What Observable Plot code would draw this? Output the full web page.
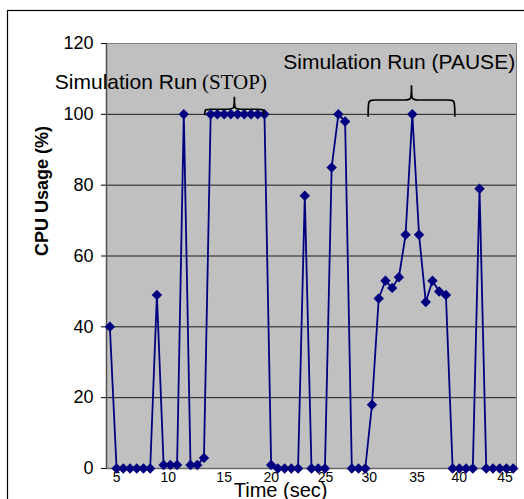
<!DOCTYPE html>
<html>
<head>
<meta charset="utf-8">
<script src="https://cdn.jsdelivr.net/npm/d3@7"></script>
<script src="https://cdn.jsdelivr.net/npm/@observablehq/plot@0.6"></script>
<style>
  html, body { margin: 0; padding: 0; background: #fff; }
</style>
</head>
<body>
<div id="chart"></div>
<script>
// CPU usage (%) for each sample of the run
const cpuUsage = [
  40, 0, 0, 0, 0, 0, 0, 49, 1, 1,
  1, 100, 1, 1, 3, 100, 100, 100, 100, 100,
  100, 100, 100, 100, 1, 0, 0, 0, 0, 77,
  0, 0, 0, 85, 100, 98, 0, 0, 0, 18,
  48, 53, 51, 54, 66, 100, 66, 47, 53, 50,
  49, 0, 0, 0, 0, 79, 0, 0, 0, 0,
  0
];
const sampleIndex = cpuUsage.map((_, i) => i);

// time labels (sec) and the sample at which each one sits
const timeTicks = [5, 10, 15, 20, 25, 30, 35, 40, 45];
const timeTickSample = [1.0, 8.7, 17.0, 24.0, 32.1, 38.6, 45.7, 52.0, 58.8];

const yTicks = [0, 20, 40, 60, 80, 100, 120];
const gridValues = [20, 40, 60, 80, 100];

// brace annotations (sample span, and CPU levels for base, bar and tip)
const braceStart = [14.2, 38.5];
const braceEnd = [23.0, 51.4];
const braceBase = [99.6, 99.2];
const braceMid = [101.3, 103.9];
const braceTip = [104.8, 108.1];

const rows = sampleIndex.map((s, i) => ({sample: s, cpu: cpuUsage[i]}));
const tickRows = timeTicks.map((t, i) => ({label: String(t), sample: timeTickSample[i]}));

const SANS = "'Liberation Sans', Arial, sans-serif";
const SERIF = "'Liberation Serif', 'Times New Roman', serif";
const NAVY = "#000080";

function outerBorder(index, scales, values, dimensions) {
  const r = document.createElementNS("http://www.w3.org/2000/svg", "rect");
  r.setAttribute("x", 7.5); r.setAttribute("y", 10.5);
  r.setAttribute("width", dimensions.width); r.setAttribute("height", dimensions.height);
  r.setAttribute("fill", "none"); r.setAttribute("stroke", "#000"); r.setAttribute("stroke-width", 1.2);
  return r;
}

function braces(index, scales) {
  const {x, y} = scales;
  const g = d3.create("svg:g").attr("fill", "none").attr("stroke", "#000").attr("stroke-width", 1.7);
  for (let i = 0; i < braceStart.length; i++) {
    const x0 = x(braceStart[i]), x1 = x(braceEnd[i]), xc = (x0 + x1) / 2;
    const yb = y(braceBase[i]), ym = y(braceMid[i]), yt = y(braceTip[i]);
    const r = Math.min(7, (x1 - x0) / 6);
    g.append("path").attr("d",
      `M${x0},${yb}C${x0},${ym} ${x0},${ym} ${x0 + r},${ym}` +
      `L${xc - r},${ym}C${xc},${ym} ${xc},${ym} ${xc},${yt}` +
      `C${xc},${ym} ${xc},${ym} ${xc + r},${ym}` +
      `L${x1 - r},${ym}C${x1},${ym} ${x1},${ym} ${x1},${yb}`);
  }
  return g.node();
}

const chart = Plot.plot({
  width: 524,
  height: 499,
  marginLeft: 106,
  marginRight: 8,
  marginTop: 43,
  marginBottom: 31,
  style: {fontFamily: SANS, background: "#fff", color: "#000"},
  x: {domain: [-0.5, cpuUsage.length - 0.5], axis: null},
  y: {domain: [0, 120], axis: null},
  marks: [
    outerBorder,
    Plot.frame({fill: "#c0c0c0", stroke: "#808080"}),
    Plot.ruleY(gridValues, {stroke: "#1a1a1a", strokeWidth: 1}),
    Plot.ruleY([0], {stroke: "#6a6a6a", strokeWidth: 1.5}),
    Plot.ruleX([-0.5], {stroke: "#505050", strokeWidth: 1.5}),
    Plot.axisY(yTicks, {label: null, tickSize: 5, tickPadding: 8, fontSize: 18, stroke: "#000", tickFormat: d => String(d)}),
    Plot.text(tickRows, {x: "sample", y: 0, text: "label", lineAnchor: "top", dy: 4, fontSize: 14, fill: "#000"}),
    Plot.text(["Time (sec)"], {x: 25.4, y: 0, lineAnchor: "bottom", dy: 28, fontSize: 20, fill: "#000"}),
    Plot.text(["CPU Usage (%)"], {frameAnchor: "left", y: 60, dx: -64.3, rotate: -90, fontSize: 18, fontWeight: "bold", fill: "#000"}),
    Plot.line(rows, {x: "sample", y: "cpu", stroke: NAVY, strokeWidth: 1.8}),
    Plot.dot(rows, {x: "sample", y: "cpu", symbol: "diamond2", r: 4.7, fill: NAVY, stroke: "none"}),
    braces,
    Plot.text(["Simulation Run"], {x: 13.0, y: 107.2, textAnchor: "end", lineAnchor: "bottom", fontSize: 21, fill: "#000"}),
    Plot.text(["(STOP)"], {x: 13.7, y: 107.2, textAnchor: "start", lineAnchor: "bottom", fontSize: 21, fontFamily: SERIF, fill: "#000"}),
    Plot.text(["Simulation Run (PAUSE)"], {x: 25.8, y: 112.9, textAnchor: "start", lineAnchor: "bottom", fontSize: 21, fill: "#000"})
  ]
});

document.getElementById("chart").appendChild(chart);
</script>
</body>
</html>
